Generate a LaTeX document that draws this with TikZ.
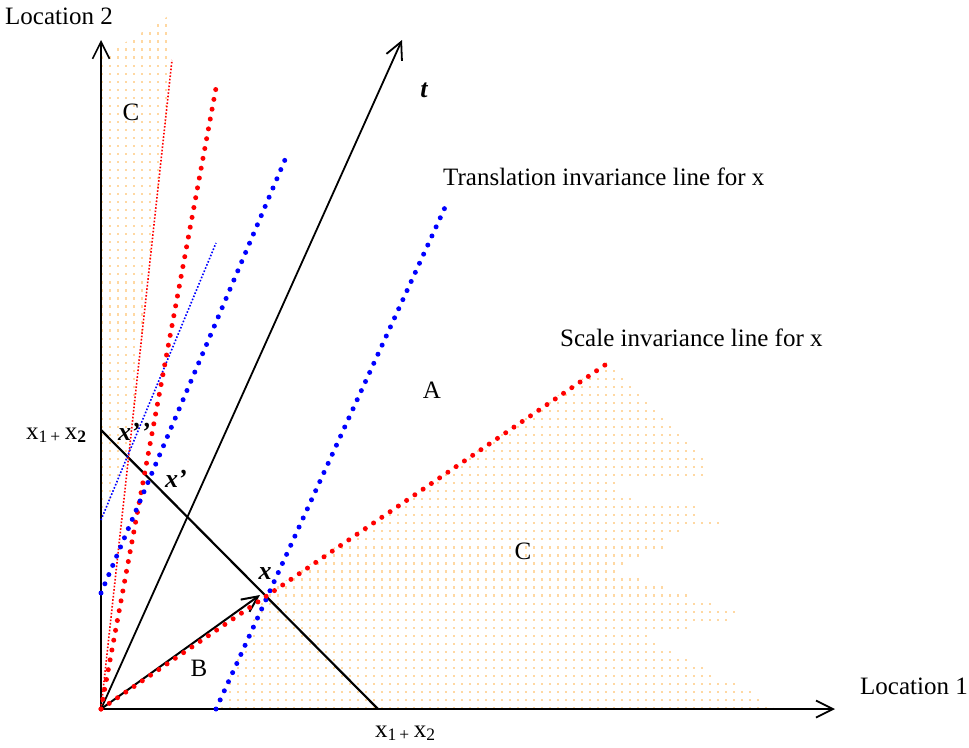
\documentclass[tikz,border=0pt]{standalone}
\usepackage{fontspec}
\setmainfont{Liberation Serif}
\usetikzlibrary{arrows.meta}
\definecolor{dotfill}{RGB}{255,216,162}
\definecolor{tred}{RGB}{255,0,0}
\definecolor{tblue}{RGB}{0,0,255}
\begin{document}
\begin{tikzpicture}[x=1pt,y=-1pt,
  axisline/.style={line width=1.8pt,-{Straight Barb[length=17pt,width=17pt,line width=1.8pt]}},
  plainline/.style={line width=2pt},
  bigdots/.style={line width=5pt,line cap=round,dash pattern=on 0pt off 10pt},
  smalldots/.style={line width=1.6pt,dash pattern=on 1.6pt off 1.8pt},
  lbl/.style={font=\fontsize{25}{30}\selectfont,inner sep=0pt},
  vlbl/.style={font=\fontsize{26}{30}\selectfont\bfseries\itshape,inner sep=0pt}]
\useasboundingbox (0,0) rectangle (969,747);

% key points
\coordinate (O) at (101,709);
\coordinate (Ytip) at (101,40);
\coordinate (Xtip) at (835,709);
\coordinate (Ttip) at (402,40);
\coordinate (S1) at (101,430);
\coordinate (S2) at (378,709);
\coordinate (X) at (262,596);
\coordinate (Xhead) at (260,595);
\coordinate (Send) at (605,365);
\coordinate (Tr0) at (216,709);
\coordinate (Tr1) at (447,203);
\coordinate (Sp1) at (216,88);
\coordinate (Tp0) at (101,593);
\coordinate (Tp1) at (287,155);
\coordinate (Spp1) at (172,60);
\coordinate (Tpp0) at (101,520);
\coordinate (Tpp1) at (216,243);
\coordinate (YthickTop) at (101,500);

% dotted region C (right)
\begin{scope}
\clip (216,712) -- (263,596) -- (607,362)
  \foreach \yy/\rr in {370.7/615,378.7/622,386.7/630,394.7/637,402.7/645,410.7/653,418.7/662,426.7/670,434.7/678,442.7/686,450.7/694,458.7/702,466.7/700,474.7/702,482.7/613,490.7/613,498.7/630,506.7/693,514.7/693,522.7/718,530.7/678,538.7/663,546.7/663,554.7/638,562.7/622,570.7/614,578.7/638,586.7/662,594.7/687,602.7/710,610.7/735,618.7/727,626.7/687,634.7/645,642.7/653,650.7/670,658.7/687,666.7/702,674.7/710,682.7/735,690.7/750,698.7/760,706.7/770}
  { -- (\rr+3,\yy-4) -- (\rr+3,\yy+4) }
  -- (216,712) -- cycle;
\foreach \i in {14,...,84} {
  \foreach \j in {0,...,43} {
    \fill[dotfill] ({101.7+8*\i-1.1},{708-8.03*\j-1.1}) rectangle ++(2.2,2.2);
  }
}
\end{scope}

% dotted region C (left)
\begin{scope}
\clip (100,522) -- (129,460) -- (173,58) -- (170,15) -- (100,58) -- cycle;
\foreach \i in {0,...,9} {
  \foreach \j in {22,...,86} {
    \fill[dotfill] ({101.7+8*\i-1.1},{708-8.03*\j-1.1}) rectangle ++(2.2,2.2);
  }
}
\end{scope}

% axes
\draw[line width=1.3pt,-{Straight Barb[length=17pt,width=17pt,line width=1.6pt]}] (O) -- (Ytip);
\draw[plainline] (O) -- (YthickTop);
\draw[axisline] (O) -- (Xtip);
\draw[axisline] (O) -- (Ttip);
% x1 + x2 line
\draw[line width=2.2pt] (S1) -- (S2);
% vector x
\draw[line width=2pt,-{Straight Barb[length=16pt,width=15pt,line width=2pt]}] (O) -- (Xhead);

% invariance lines
\draw[tred,smalldots] (O) -- (Spp1);
\draw[tblue,smalldots] (Tpp0) -- (Tpp1);
\draw[tred,bigdots] (O) -- (Sp1);
\draw[tblue,bigdots] (Tp0) -- (Tp1);
\draw[tblue,bigdots] (Tr0) -- (Tr1);
\draw[tred,bigdots] (O) -- (Send);

% labels
\node[lbl,anchor=base west] (loc2) at (5,24) {Location 2};
\node[lbl,anchor=base west] (loc1) at (860,694) {Location 1};
\node[lbl,anchor=base west] (trl) at (443,185) {Translation invariance line for x};
\node[lbl,anchor=base west] (scl) at (560,346) {Scale invariance line for x};
\node[vlbl,anchor=base] (tl) at (424,97) {t};
\node[lbl] (A) at (432,390) {A};
\node[lbl] (C1) at (131,112) {C};
\node[lbl] (C2) at (523,551) {C};
\node[lbl] (B) at (199,668) {B};
\node[vlbl,anchor=base] (xl) at (265,579) {x};
\node[vlbl,anchor=base west] (xpl) at (165,487) {x’};
\node[vlbl,anchor=base west] (xppl) at (118,440) {x’\kern1.5pt’};
\node[lbl,anchor=base west] (sum1) at (26,439) {x\textsubscript{1\,+}\,x\textsubscript{\textbf{2}}};
\node[lbl,anchor=base west] (sum2) at (375,737) {x\textsubscript{1\,+}\,x\textsubscript{2}};
\end{tikzpicture}
\end{document}
